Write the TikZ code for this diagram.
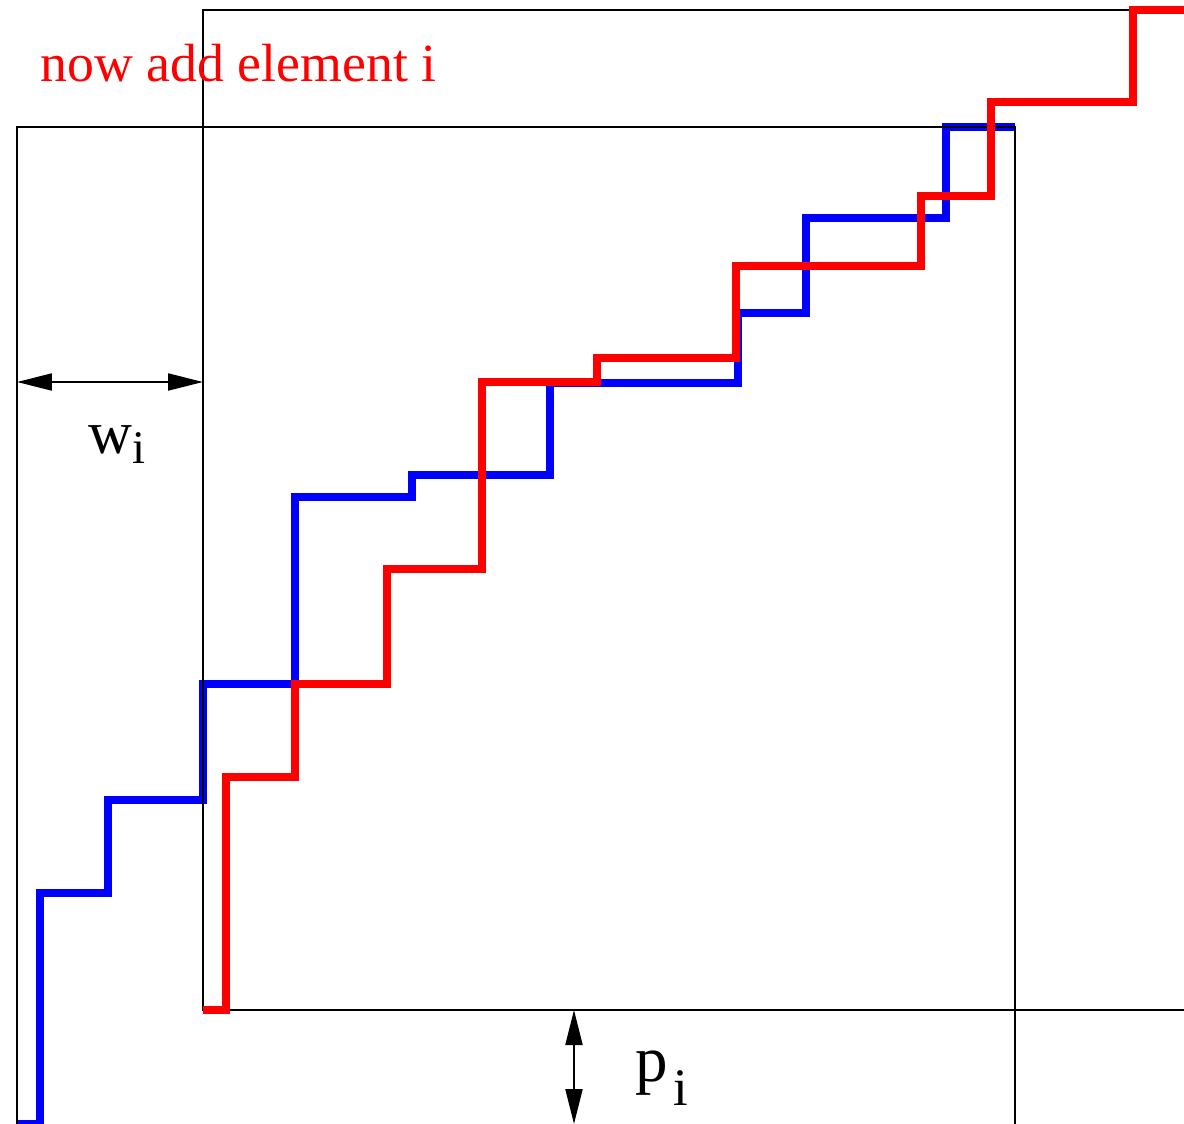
\documentclass[tikz,border=0pt]{standalone}
\usepackage{fontspec}
\setmainfont{Liberation Serif}
\usetikzlibrary{arrows.meta}

\begin{document}
\begin{tikzpicture}[
  x=0.1mm, y=-0.1mm,
  box/.style={draw=black, line width=0.5pt},
  stair/.style={line width=2pt, line join=miter},
  dim/.style={{Triangle[length=3.5mm,width=1.7mm]}-{Triangle[length=3.5mm,width=1.7mm]}, line width=0.6pt},
  lbl/.style={anchor=base west, inner sep=0pt},
]
\useasboundingbox (0,0) rectangle (1184,1124);

%% old profile (blue)
\draw[stair, blue] (17,1124) -- (40,1124) -- (40,893) -- (108,893) -- (108,800)
  -- (203,800) -- (203,684) -- (295,684) -- (295,497) -- (412,497) -- (412,475)
  -- (550,475) -- (550,383) -- (738,383) -- (738,313) -- (806,313) -- (806,218)
  -- (946,218) -- (946,127) -- (1015,127);

%% the two boxes
\draw[box] (17,1124) -- (17,127) -- (1015,127) -- (1015,1124);
\draw[box] (1184,1010) -- (203,1010) -- (203,10) -- (1184,10);

%% new profile (red)
\draw[stair, red] (203,1010) -- (226,1010) -- (226,777) -- (295,777) -- (295,684)
  -- (387,684) -- (387,569) -- (482,569) -- (482,382) -- (597,382) -- (597,358)
  -- (736,358) -- (736,266) -- (921,266) -- (921,196) -- (991,196) -- (991,102)
  -- (1133,102) -- (1133,10) -- (1184,10);

%% shifts
\coordinate (wl) at (17,382);
\coordinate (wr) at (203,382);
\coordinate (pt) at (574,1010);
\coordinate (pb) at (574,1124);
\draw[dim] (wl) -- (wr);
\draw[dim] (pt) -- (pb);

\node[lbl, red, font=\fontsize{15.3}{18}\selectfont] (title) at (40,81) {now add element i};
\node[lbl, font=\fontsize{17.3}{20}\selectfont] (wlabel) at (88,453)
  {w\raisebox{-1mm}{\fontsize{13.3}{16}\selectfont i}};
\node[lbl, font=\fontsize{18.5}{22}\selectfont] (plabel) at (635,1081)
  {p\hspace{0.5mm}\raisebox{-2.4mm}{\fontsize{15}{18}\selectfont i}};
\end{tikzpicture}
\end{document}
